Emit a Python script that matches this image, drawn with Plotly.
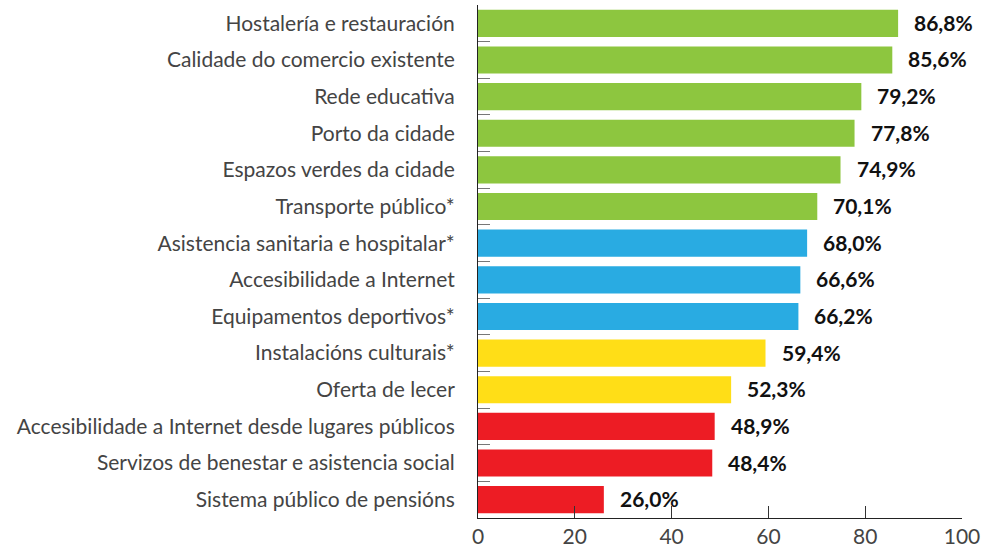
import plotly.graph_objects as go

categories = [
    "Hostalería e restauración",
    "Calidade do comercio existente",
    "Rede educativa",
    "Porto da cidade",
    "Espazos verdes da cidade",
    "Transporte público*",
    "Asistencia sanitaria e hospitalar*",
    "Accesibilidade a Internet",
    "Equipamentos deportivos*",
    "Instalacións culturais*",
    "Oferta de lecer",
    "Accesibilidade a Internet desde lugares públicos",
    "Servizos de benestar e asistencia social",
    "Sistema público de pensións",
]
values = [86.8, 85.6, 79.2, 77.8, 74.9, 70.1, 68.0, 66.6, 66.2, 59.4, 52.3, 48.9, 48.4, 26.0]
groups = ["g"] * 6 + ["b"] * 3 + ["y"] * 2 + ["r"] * 3
palette = {"g": "#8DC63F", "b": "#29ABE2", "y": "#FFDE17", "r": "#ED1C24"}
x_ticks = [0, 20, 40, 60, 80, 100]

colors = [palette[g] for g in groups]

fig = go.Figure(go.Bar(
    x=values,
    y=categories,
    orientation="h",
    marker=dict(color=colors, line=dict(width=0)),
    hoverinfo="skip",
))

for v, c in zip(values, categories):
    fig.add_annotation(
        x=v, y=c, xref="x", yref="y",
        text="<b>" + f"{v:.1f}".replace(".", ",") + "%</b>",
        showarrow=False, xanchor="left", yanchor="middle", xshift=14, yshift=1,
        font=dict(family="Lato", size=21, color="#111111"),
    )

fig.update_layout(
    width=985, height=548,
    margin=dict(l=478, r=23, t=5, b=30),
    paper_bgcolor="white", plot_bgcolor="white",
    separators=",.",
    bargap=0.26,
    showlegend=False,
    font=dict(family="Lato", size=21, color="#444444"),
)
fig.update_xaxes(
    range=[0, 100], tickvals=x_ticks, ticks="inside", ticklen=12,
    tickcolor="#333333", tickwidth=1, showline=True, linecolor="#222222",
    linewidth=1, showgrid=False, zeroline=False, automargin=False,
    tickfont=dict(family="Lato", size=21, color="#444444"),
)
fig.update_yaxes(
    autorange="reversed", ticks="inside", tickson="boundaries", ticklen=12,
    tickcolor="#777777", tickwidth=1, showline=True, linecolor="#222222",
    linewidth=1, showgrid=False, ticklabelstandoff=18, automargin=False,
    tickfont=dict(family="Lato", size=21, color="#444444"),
)

fig.write_html(
    "out.html",
    config={"displayModeBar": False},
    post_script="document.body.style.margin='0';document.body.style.overflow='hidden';",
)
